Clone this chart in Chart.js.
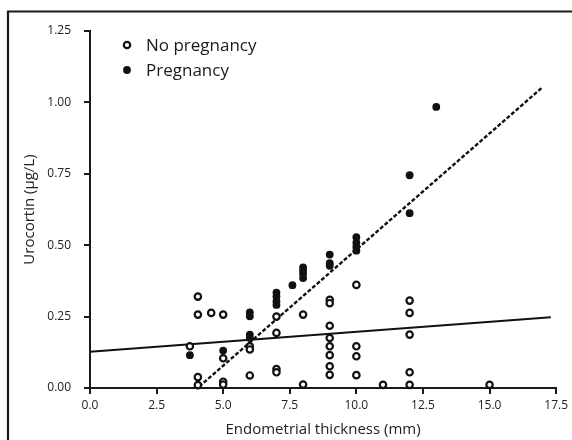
<!DOCTYPE html>
<html>
<head>
<meta charset="utf-8">
<script src="https://cdn.jsdelivr.net/npm/chart.js@4.4.1/dist/chart.umd.min.js"></script>
<style>
html,body{margin:0;padding:0;background:#fff;}
#wrap{width:572px;height:440px;position:relative;}
</style>
</head>
<body>
<div id="wrap"><canvas id="c" width="572" height="440"></canvas></div>
<script>
// ---- data ----
const xTicks = [0.0, 2.5, 5.0, 7.5, 10.0, 12.5, 15.0, 17.5];
const yTicks = [0.00, 0.25, 0.50, 0.75, 1.00, 1.25];

const noPregX = [3.75, 4.05, 4.05, 4.05, 4.05, 4.55, 5.0, 5.0, 5.0, 5.0, 6.0, 6.0, 6.0,
  7.0, 7.0, 7.0, 7.0, 8.0, 8.0, 9.0, 9.0, 9.0, 9.0, 9.0, 9.0, 9.0, 9.0,
  10.0, 10.0, 10.0, 10.0, 11.0, 12.0, 12.0, 12.0, 12.0, 12.0, 15.0];
const noPregY = [0.146, 0.320, 0.257, 0.038, 0.010, 0.263, 0.257, 0.104, 0.022, 0.012, 0.146, 0.135, 0.044,
  0.250, 0.193, 0.066, 0.055, 0.257, 0.012, 0.309, 0.297, 0.218, 0.175, 0.146, 0.115, 0.076, 0.046,
  0.361, 0.146, 0.111, 0.045, 0.011, 0.306, 0.263, 0.187, 0.055, 0.011, 0.011];

const pregX = [3.75, 5.0, 6.0, 6.0, 6.0, 6.0, 7.0, 7.0, 7.0, 7.0, 7.6, 8.0, 8.0, 8.0, 8.0,
  9.0, 9.0, 9.0, 10.0, 10.0, 10.0, 10.0, 12.0, 12.0, 13.0];
const pregY = [0.115, 0.131, 0.265, 0.251, 0.187, 0.175, 0.334, 0.320, 0.303, 0.291, 0.360, 0.422, 0.411, 0.400, 0.385,
  0.467, 0.437, 0.428, 0.528, 0.509, 0.495, 0.481, 0.745, 0.612, 0.984];

// regression line end points
const fitNoPregX = [0.0, 17.3];
const fitNoPregY = [0.127, 0.248];
const fitPregX = [4.1, 16.95];
const fitPregY = [0.005, 1.05];

const labels = ['No pregnancy', 'Pregnancy'];

const pts = (xs, ys) => xs.map((x, i) => ({x: x, y: ys[i]}));

const frame = {
  id: 'frame',
  afterDraw(chart) {
    const ctx = chart.ctx;
    ctx.save();
    ctx.strokeStyle = '#1a1a1a';
    ctx.lineWidth = 2.2;
    ctx.beginPath();
    ctx.moveTo(572, 11.5);
    ctx.lineTo(8, 11.5);
    ctx.lineTo(8, 440);
    ctx.stroke();
    // legend
    const items = [chart.data.datasets[0], chart.data.datasets[1]];
    ctx.font = '17px "Open Sans"';
    ctx.textBaseline = 'middle';
    items.forEach((ds, i) => {
      const y = 45 + i * 25;
      ctx.beginPath();
      ctx.arc(127, y, ds.pointRadius, 0, Math.PI * 2);
      ctx.fillStyle = ds.pointBackgroundColor;
      ctx.fill();
      if (ds.pointBorderWidth > 0) {
        ctx.lineWidth = ds.pointBorderWidth;
        ctx.strokeStyle = ds.pointBorderColor;
        ctx.stroke();
      }
      ctx.fillStyle = '#1a1a1a';
      ctx.fillText(ds.label, 146, y + 1);
    });
    ctx.restore();
  }
};

const tickFont = {family: '"Open Sans"', size: 12};
const titleFont = {family: '"Open Sans"', size: 15};

new Chart(document.getElementById('c'), {
  type: 'scatter',
  data: {
    datasets: [
      {label: labels[0], data: pts(noPregX, noPregY), pointRadius: 3.2, pointBorderWidth: 2.2,
       pointBackgroundColor: '#fff', pointBorderColor: '#111', backgroundColor: '#fff', borderColor: '#111', clip: false, order: 1},
      {label: labels[1], data: pts(pregX, pregY), pointRadius: 3.9, pointBorderWidth: 0,
       pointBackgroundColor: '#111', pointBorderColor: '#111', backgroundColor: '#111', borderColor: '#111', clip: false, order: 0},
      {label: 'fit1', data: pts(fitNoPregX, fitNoPregY), showLine: true, pointRadius: 0,
       borderColor: '#111', borderWidth: 2, clip: false, order: 2},
      {label: 'fit2', data: pts(fitPregX, fitPregY), showLine: true, pointRadius: 0,
       borderColor: '#111', borderWidth: 2.4, borderDash: [4, 2], clip: false, order: 2}
    ]
  },
  options: {
    responsive: false,
    animation: false,
    events: [],
    layout: {padding: {left: 0, right: 15, top: 31, bottom: 0}},
    plugins: {legend: {display: false}, tooltip: {enabled: false}},
    scales: {
      x: {
        type: 'linear', min: 0, max: 17.5,
        afterFit: s => { s.height = 52; },
        afterBuildTicks: s => { s.ticks = xTicks.map(v => ({value: v})); },
        ticks: {font: tickFont, color: '#222', padding: 4, maxRotation: 0,
                callback: v => Number(v).toFixed(1)},
        grid: {display: true, drawOnChartArea: false, drawTicks: true, tickLength: 6, color: '#1a1a1a', lineWidth: 2},
        border: {display: true, color: '#1a1a1a', width: 2},
        title: {display: true, text: 'Endometrial thickness (mm)', font: titleFont, color: '#222', padding: {top: 0, bottom: 1}}
      },
      y: {
        type: 'linear', min: 0, max: 1.25,
        afterFit: s => { s.width = 90; },
        afterBuildTicks: s => { s.ticks = yTicks.map(v => ({value: v})); },
        ticks: {font: tickFont, color: '#222', padding: 13,
                callback: v => Number(v).toFixed(2)},
        grid: {display: true, drawOnChartArea: false, drawTicks: true, tickLength: 6, color: '#1a1a1a', lineWidth: 2},
        border: {display: true, color: '#1a1a1a', width: 2},
        title: {display: true, text: 'Urocortin (µg/L)', font: titleFont, color: '#222', padding: {top: 21, bottom: 0}}
      }
    }
  },
  plugins: [frame]
});
</script>
</body>
</html>
